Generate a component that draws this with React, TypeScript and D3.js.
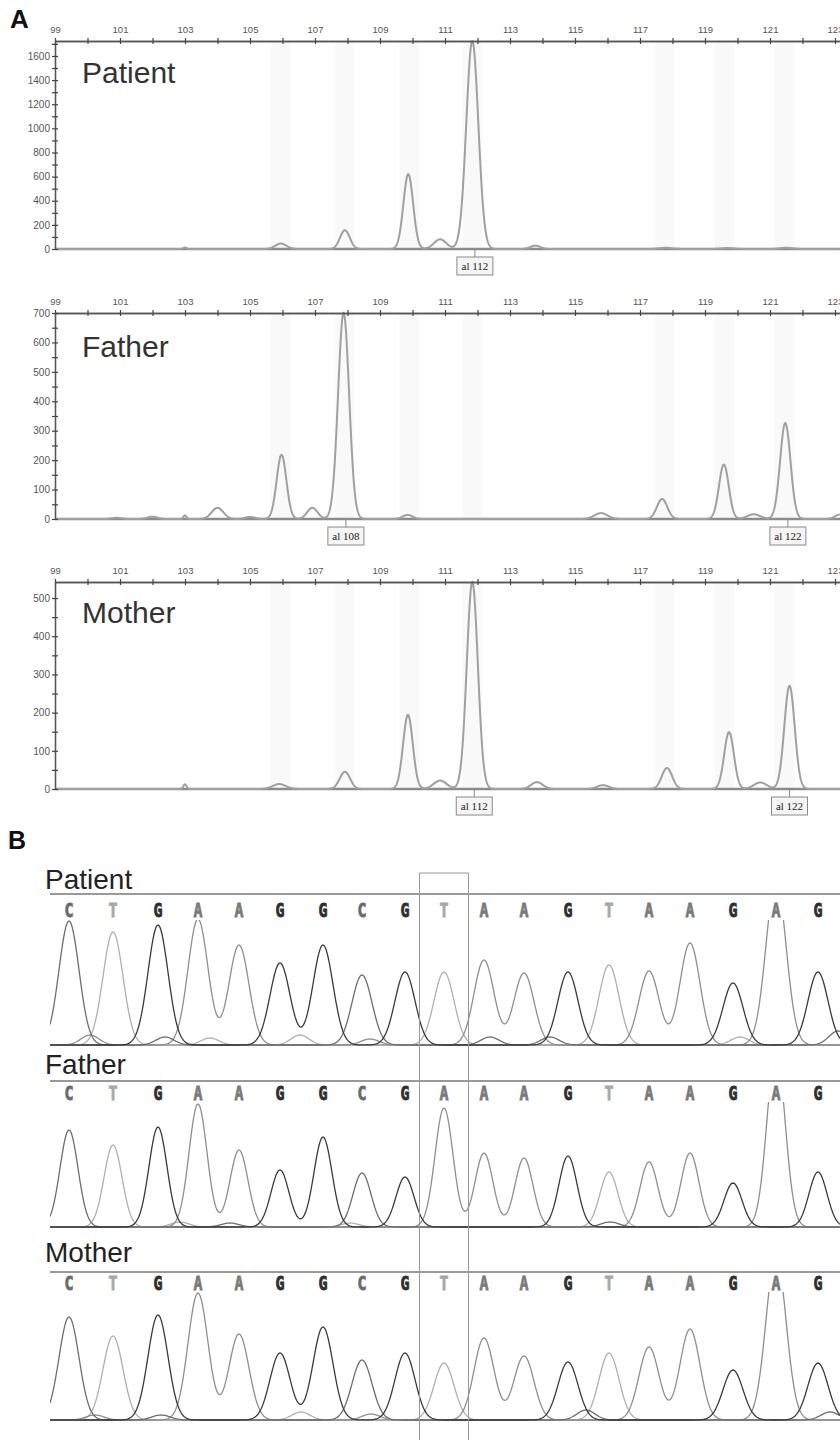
import React, { useEffect, useRef } from "react";
import * as d3 from "d3";

// ---------- panel A : fragment analysis ----------
const sizeTicks = [99, 100, 101, 102, 103, 104, 105, 106, 107, 108, 109, 110, 111, 112, 113, 114, 115, 116, 117, 118, 119, 120, 121, 122, 123];
const sizeLabels = [99, 101, 103, 105, 107, 109, 111, 113, 115, 117, 119, 121, 123];
const binSizes = [105.95, 107.9, 109.9, 111.85, 117.75, 119.6, 121.45];

const patientYTicks = [0, 100, 200, 300, 400, 500, 600, 700, 800, 900, 1000, 1100, 1200, 1300, 1400, 1500, 1600, 1700];
const patientYLabels = [0, 200, 400, 600, 800, 1000, 1200, 1400, 1600];
const fatherYTicks = [0, 50, 100, 150, 200, 250, 300, 350, 400, 450, 500, 550, 600, 650, 700];
const fatherYLabels = [0, 100, 200, 300, 400, 500, 600, 700];
const motherYTicks = [0, 50, 100, 150, 200, 250, 300, 350, 400, 450, 500];
const motherYLabels = [0, 100, 200, 300, 400, 500];

// size (bp), height (rfu), width (bp)
const patientFragPeaks = [
  { size: 103.0, rfu: 12, w: 0.05 },
  { size: 105.95, rfu: 45, w: 0.17 },
  { size: 107.92, rfu: 155, w: 0.15 },
  { size: 109.87, rfu: 620, w: 0.15 },
  { size: 110.85, rfu: 80, w: 0.19 },
  { size: 111.84, rfu: 1724, w: 0.185 },
  { size: 113.78, rfu: 28, w: 0.15 },
  { size: 117.8, rfu: 10, w: 0.2 },
  { size: 119.7, rfu: 8, w: 0.2 },
  { size: 121.5, rfu: 10, w: 0.2 },
];
const fatherFragPeaks = [
  { size: 100.9, rfu: 4, w: 0.15 },
  { size: 102.0, rfu: 8, w: 0.15 },
  { size: 103.0, rfu: 12, w: 0.05 },
  { size: 104.0, rfu: 38, w: 0.18 },
  { size: 105.0, rfu: 7, w: 0.15 },
  { size: 105.97, rfu: 218, w: 0.15 },
  { size: 106.92, rfu: 38, w: 0.16 },
  { size: 107.88, rfu: 700, w: 0.17 },
  { size: 109.85, rfu: 14, w: 0.15 },
  { size: 115.8, rfu: 20, w: 0.2 },
  { size: 117.68, rfu: 68, w: 0.16 },
  { size: 119.58, rfu: 185, w: 0.15 },
  { size: 120.5, rfu: 16, w: 0.2 },
  { size: 121.47, rfu: 326, w: 0.16 },
  { size: 123.15, rfu: 15, w: 0.15 },
];
const motherFragPeaks = [
  { size: 103.0, rfu: 12, w: 0.05 },
  { size: 105.9, rfu: 13, w: 0.2 },
  { size: 107.92, rfu: 45, w: 0.16 },
  { size: 109.86, rfu: 194, w: 0.15 },
  { size: 110.85, rfu: 22, w: 0.2 },
  { size: 111.84, rfu: 542, w: 0.17 },
  { size: 113.83, rfu: 18, w: 0.18 },
  { size: 115.86, rfu: 10, w: 0.18 },
  { size: 117.83, rfu: 55, w: 0.16 },
  { size: 119.74, rfu: 149, w: 0.15 },
  { size: 120.7, rfu: 17, w: 0.2 },
  { size: 121.6, rfu: 270, w: 0.16 },
];

const patientAlleles = [{ label: "al 112", size: 111.92 }];
const fatherAlleles = [{ label: "al 108", size: 107.95 }, { label: "al 122", size: 121.55 }];
const motherAlleles = [{ label: "al 112", size: 111.9 }, { label: "al 122", size: 121.6 }];

// ---------- panel B : sequencing traces ----------
const baseScans = [19, 63, 108, 148, 189, 230, 273, 312, 355, 394, 434, 474, 518, 559, 599, 640, 683, 726, 768];
const patientSeq = ["C", "T", "G", "A", "A", "G", "G", "C", "G", "T", "A", "A", "G", "T", "A", "A", "G", "A", "G"];
const fatherSeq = ["C", "T", "G", "A", "A", "G", "G", "C", "G", "A", "A", "A", "G", "T", "A", "A", "G", "A", "G"];
const motherSeq = ["C", "T", "G", "A", "A", "G", "G", "C", "G", "T", "A", "A", "G", "T", "A", "A", "G", "A", "G"];
const patientHeights = [124, 113, 120, 126, 100, 82, 100, 70, 73, 73, 85, 72, 73, 80, 74, 102, 62, 165, 73];
const fatherHeights = [97, 82, 100, 123, 77, 57, 90, 54, 50, 119, 74, 69, 71, 55, 65, 74, 44, 177, 55];
const motherHeights = [103, 84, 105, 127, 86, 67, 93, 60, 67, 57, 82, 64, 58, 67, 73, 91, 50, 165, 57];
// small background humps : base, scan, height
const patientBumps = [
  { b: "A", s: 40, h: 10 }, { b: "C", s: 115, h: 8 }, { b: "T", s: 160, h: 7 }, { b: "T", s: 250, h: 10 },
  { b: "A", s: 320, h: 6 }, { b: "C", s: 440, h: 8 }, { b: "C", s: 500, h: 8 }, { b: "T", s: 690, h: 8 },
  { b: "C", s: 788, h: 14 },
];
const fatherBumps = [{ b: "T", s: 130, h: 5 }, { b: "C", s: 180, h: 4 }, { b: "T", s: 300, h: 4 }, { b: "C", s: 560, h: 5 }];
const motherBumps = [
  { b: "A", s: 45, h: 5 }, { b: "C", s: 111, h: 5 }, { b: "T", s: 251, h: 8 }, { b: "A", s: 321, h: 6 },
  { b: "C", s: 536, h: 10 }, { b: "C", s: 780, h: 8 },
];

const FONT = "'Liberation Sans', Arial, sans-serif";
const traceColor: Record<string, string> = { A: "#8f8f8f", C: "#6e6e6e", G: "#3a3a3a", T: "#b0b0b0" };
const letterColor: Record<string, string> = { A: "#7a7a7a", C: "#6a6a6a", G: "#2e2e2e", T: "#a8a8a8" };

function drawFragment(svg: any, p: any) {
  const x = d3.scaleLinear().domain([99, 99 + 785 / 32.5]).range([55, 840]);
  const y = d3.scaleLinear().domain([0, p.yMax]).range([p.base, p.top]);
  const g = svg.append("g");

  // faint bin bands
  g.selectAll("rect.bin")
    .data(binSizes)
    .join("rect")
    .attr("x", (d: number) => x(d - 0.3))
    .attr("width", x(99.6) - x(99))
    .attr("y", p.top)
    .attr("height", p.base - p.top)
    .attr("fill", "#f9f9f9");

  const sizes = d3.range(99, x.domain()[1], 0.01);
  const signal = (s: number) =>
    d3.sum(p.peaks, (pk: any) => pk.rfu * Math.exp(-((s - pk.size) ** 2) / (2 * pk.w * pk.w)));

  g.append("line")
    .attr("x1", 55).attr("x2", 840)
    .attr("y1", y(0)).attr("y2", y(0))
    .attr("stroke", "#8c8c8c").attr("stroke-width", 2.6);

  g.append("path")
    .datum(sizes)
    .attr("d", d3.line<number>().x((s) => x(s)).y((s) => y(signal(s))))
    .attr("fill", "none")
    .attr("stroke", "#a0a0a0")
    .attr("stroke-width", 2);

  // axes with cross ticks
  const styleAxis = (a: any, size: number) => {
    a.attr("font-family", FONT).attr("font-size", size);
    a.selectAll(".domain").attr("stroke", "#555").attr("stroke-width", 1.3);
    a.selectAll(".tick line").attr("stroke", "#444").attr("stroke-width", 1.2);
    a.selectAll("text").attr("fill", "#555");
  };
  const top1 = g.append("g").attr("transform", `translate(0,${p.top})`)
    .call(d3.axisTop(x).tickValues(sizeTicks).tickSize(3).tickSizeOuter(0).tickPadding(5)
      .tickFormat((d: any) => (sizeLabels.includes(+d) ? String(d) : "")));
  styleAxis(top1, 9.5);
  const top2 = g.append("g").attr("transform", `translate(0,${p.top})`)
    .call(d3.axisBottom(x).tickValues(sizeTicks).tickSize(3).tickSizeOuter(0).tickFormat(() => ""));
  styleAxis(top2, 9.5);

  const left1 = g.append("g").attr("transform", "translate(55,0)")
    .call(d3.axisLeft(y).tickValues(p.yTicks).tickSize(3).tickSizeOuter(0).tickPadding(2)
      .tickFormat((d: any) => (p.yLabels.includes(+d) ? String(d) : "")));
  styleAxis(left1, 10);
  const left2 = g.append("g").attr("transform", "translate(55,0)")
    .call(d3.axisRight(y).tickValues(p.yTicks).tickSize(3).tickSizeOuter(0).tickFormat(() => ""));
  styleAxis(left2, 10);

  g.append("text")
    .attr("x", 82).attr("y", p.labelY)
    .attr("font-family", FONT).attr("font-size", 30).attr("fill", "#333")
    .text(p.name);

  // allele call boxes
  const al = g.selectAll("g.allele").data(p.alleles).join("g");
  al.append("line")
    .attr("x1", (d: any) => x(d.size)).attr("x2", (d: any) => x(d.size))
    .attr("y1", p.base).attr("y2", p.base + 8)
    .attr("stroke", "#888");
  al.append("rect")
    .attr("x", (d: any) => x(d.size) - 18).attr("y", p.base + 8)
    .attr("width", 36).attr("height", 18)
    .attr("fill", "#f5f5f5").attr("stroke", "#8a8a8a");
  al.append("text")
    .attr("x", (d: any) => x(d.size)).attr("y", p.base + 21)
    .attr("text-anchor", "middle")
    .attr("font-family", "'Liberation Serif', 'Times New Roman', serif")
    .attr("font-size", 11).attr("fill", "#222")
    .text((d: any) => d.label);
}

function drawSanger(svg: any, p: any) {
  const xs = d3.scaleLinear().domain([0, 790]).range([50, 840]);
  const ys = d3.scaleLinear().domain([0, p.fullScale]).range([p.base, p.top]);
  const g = svg.append("g");

  g.append("text")
    .attr("x", 45).attr("y", p.nameY)
    .attr("font-family", FONT).attr("font-size", 28).attr("fill", "#222")
    .text(p.name);

  g.append("line")
    .attr("x1", xs(0)).attr("x2", xs(790))
    .attr("y1", p.lineY).attr("y2", p.lineY)
    .attr("stroke", "#777").attr("stroke-width", 1.5);

  g.selectAll("text.base")
    .data(p.seq)
    .join("text")
    .attr("x", (d: string, i: number) => xs(baseScans[i]))
    .attr("y", p.letterY)
    .attr("text-anchor", "middle")
    .attr("font-family", "'DejaVu Sans Mono', monospace")
    .attr("font-weight", "bold")
    .attr("font-size", 19)
    .attr("textLength", 9)
    .attr("lengthAdjust", "spacingAndGlyphs")
    .attr("fill", (d: string) => letterColor[d])
    .attr("stroke", (d: string) => letterColor[d])
    .attr("stroke-width", 0.8)
    .text((d: string) => d);

  const clipId = "clip-" + p.name;
  svg.append("clipPath").attr("id", clipId)
    .append("rect")
    .attr("x", xs(0)).attr("y", p.top)
    .attr("width", xs(790) - xs(0)).attr("height", p.base - p.top + 2);

  g.append("line")
    .attr("x1", xs(0)).attr("x2", xs(790))
    .attr("y1", p.base).attr("y2", p.base)
    .attr("stroke", "#777").attr("stroke-width", 1.6);

  const scans = d3.range(0, 791, 1);
  ["T", "A", "C", "G"].forEach((ch) => {
    const peaks = p.seq
      .map((b: string, i: number) => ({ b, s: baseScans[i], h: p.heights[i], w: p.sigma }))
      .filter((d: any) => d.b === ch)
      .concat(p.bumps.filter((d: any) => d.b === ch).map((d: any) => ({ ...d, w: 9 })));
    const sig = (t: number) => d3.sum(peaks, (pk: any) => pk.h * Math.exp(-((t - pk.s) ** 2) / (2 * pk.w * pk.w)));
    g.append("path")
      .datum(scans)
      .attr("clip-path", `url(#${clipId})`)
      .attr("d", d3.line<number>().x((t) => xs(t)).y((t) => ys(sig(t))))
      .attr("fill", "none")
      .attr("stroke", traceColor[ch])
      .attr("stroke-width", 1.3);
  });
}

const App = () => {
  const ref = useRef<SVGSVGElement>(null);

  useEffect(() => {
    const svg = d3.select(ref.current);
    svg.selectAll("*").remove();

    svg.append("rect").attr("width", 840).attr("height", 1440).attr("fill", "#fff");

    svg.append("text").attr("x", 10).attr("y", 28)
      .attr("font-family", FONT).attr("font-weight", "bold").attr("font-size", 26).attr("fill", "#111")
      .text("A");

    drawFragment(svg, { name: "Patient", top: 41, base: 249, yMax: 1724, labelY: 83, yTicks: patientYTicks, yLabels: patientYLabels, peaks: patientFragPeaks, alleles: patientAlleles });
    drawFragment(svg, { name: "Father", top: 313, base: 519, yMax: 700, labelY: 357, yTicks: fatherYTicks, yLabels: fatherYLabels, peaks: fatherFragPeaks, alleles: fatherAlleles });
    drawFragment(svg, { name: "Mother", top: 582, base: 789, yMax: 542, labelY: 623, yTicks: motherYTicks, yLabels: motherYLabels, peaks: motherFragPeaks, alleles: motherAlleles });

    svg.append("text").attr("x", 8).attr("y", 849)
      .attr("font-family", FONT).attr("font-weight", "bold").attr("font-size", 25).attr("fill", "#111")
      .text("B");

    drawSanger(svg, { name: "Patient", nameY: 889, lineY: 894, letterY: 917, top: 920, base: 1045, fullScale: 125, sigma: 10, seq: patientSeq, heights: patientHeights, bumps: patientBumps });
    drawSanger(svg, { name: "Father", nameY: 1074, lineY: 1081, letterY: 1100, top: 1102, base: 1227, fullScale: 125, sigma: 9, seq: fatherSeq, heights: fatherHeights, bumps: fatherBumps });
    drawSanger(svg, { name: "Mother", nameY: 1262, lineY: 1272, letterY: 1290, top: 1292, base: 1420, fullScale: 128, sigma: 10, seq: motherSeq, heights: motherHeights, bumps: motherBumps });

    // box around the variant position
    const xs = d3.scaleLinear().domain([0, 790]).range([50, 840]);
    const cx = xs(baseScans[9]);
    svg.append("path")
      .attr("d", `M${cx - 24.5},1440V873H${cx + 24.5}V1440`)
      .attr("fill", "none")
      .attr("stroke", "#999")
      .attr("stroke-width", 1);
  }, []);

  return (
    <svg ref={ref} width={840} height={1440} style={{ position: "absolute", left: 0, top: 0 }}></svg>
  );
};

export default App;
